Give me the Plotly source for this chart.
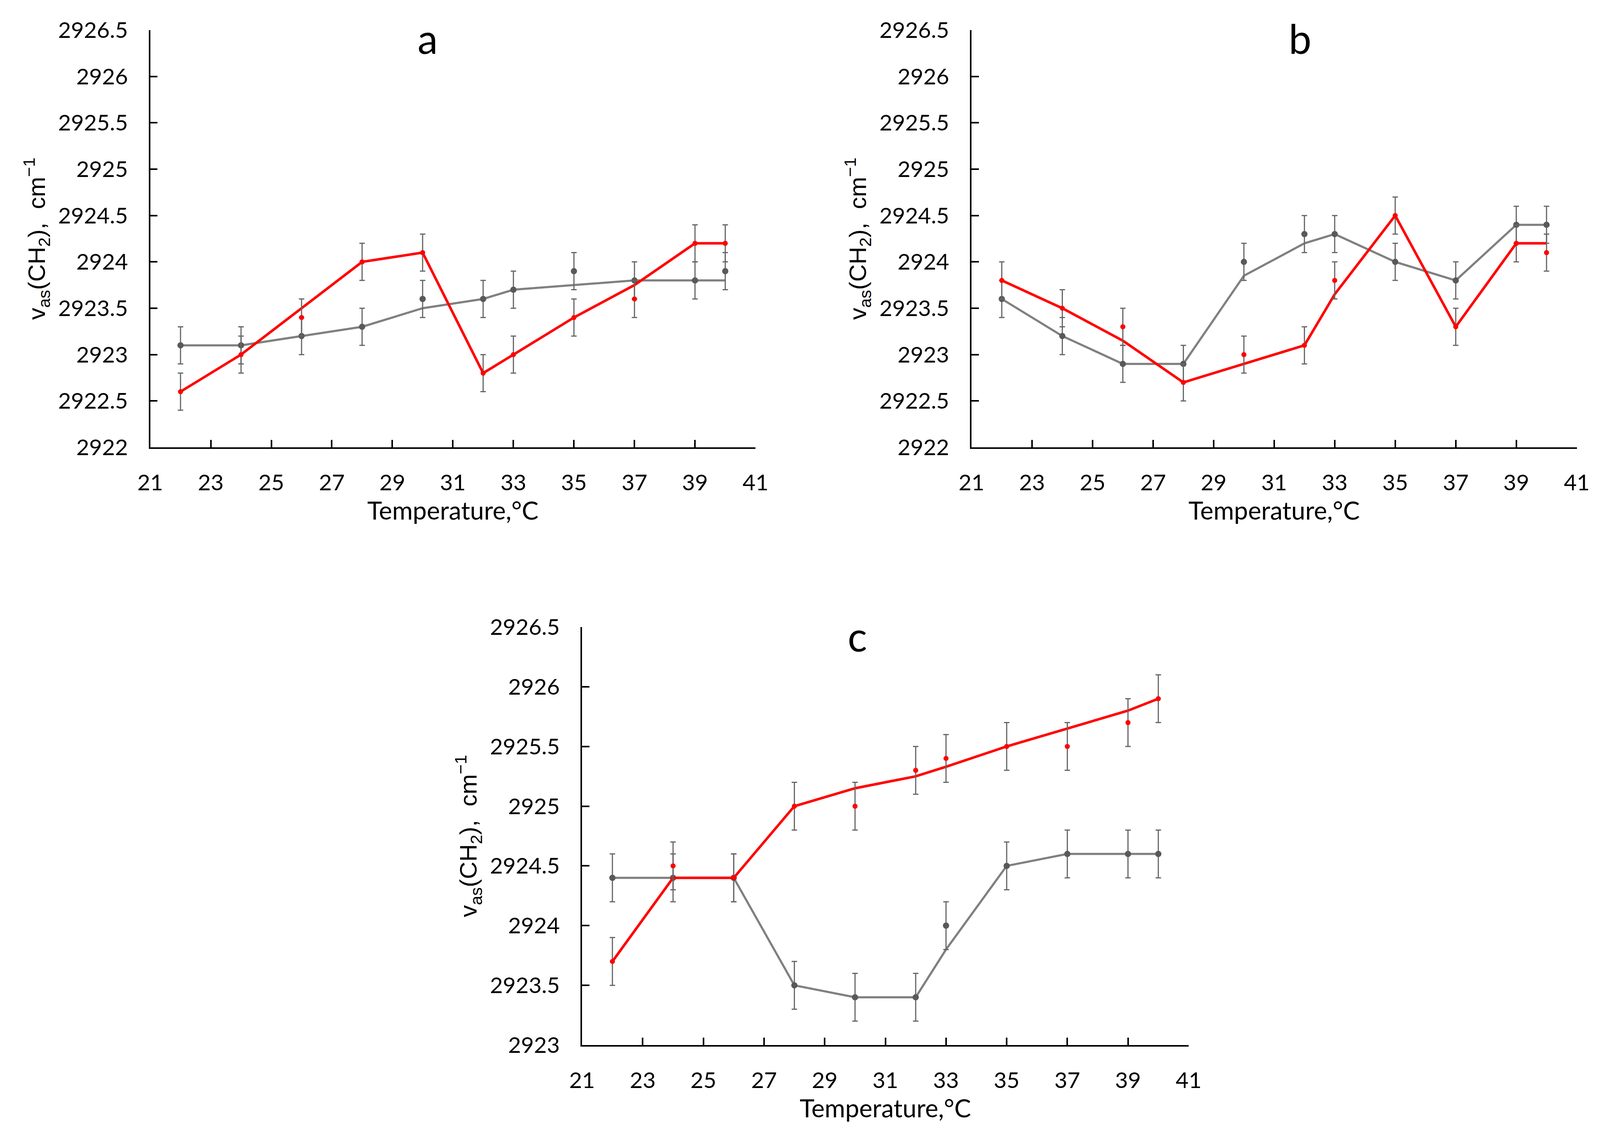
import plotly.graph_objects as go

# ---------------- data ----------------
temps = [22, 24, 26, 28, 30, 32, 33, 35, 37, 39, 40]

a_gray_pts = [2923.1, 2923.1, 2923.2, 2923.3, 2923.6, 2923.6, 2923.7, 2923.9, 2923.8, 2923.8, 2923.9]
a_gray_line = [2923.1, 2923.1, 2923.2, 2923.3, 2923.5, 2923.6, 2923.7, 2923.75, 2923.8, 2923.8, 2923.8]
a_red_pts = [2922.6, 2923.0, 2923.4, 2924.0, 2924.1, 2922.8, 2923.0, 2923.4, 2923.6, 2924.2, 2924.2]
a_red_line = [2922.6, 2923.0, 2923.5, 2924.0, 2924.1, 2922.8, 2923.0, 2923.4, 2923.75, 2924.2, 2924.2]

b_gray_pts = [2923.6, 2923.2, 2922.9, 2922.9, 2924.0, 2924.3, 2924.3, 2924.0, 2923.8, 2924.4, 2924.4]
b_gray_line = [2923.6, 2923.2, 2922.9, 2922.9, 2923.85, 2924.2, 2924.3, 2924.0, 2923.8, 2924.4, 2924.4]
b_red_pts = [2923.8, 2923.5, 2923.3, 2922.7, 2923.0, 2923.1, 2923.8, 2924.5, 2923.3, 2924.2, 2924.1]
b_red_line = [2923.8, 2923.5, 2923.15, 2922.7, 2922.9, 2923.1, 2923.65, 2924.5, 2923.3, 2924.2, 2924.2]

c_gray_pts = [2924.4, 2924.4, 2924.4, 2923.5, 2923.4, 2923.4, 2924.0, 2924.5, 2924.6, 2924.6, 2924.6]
c_gray_line = [2924.4, 2924.4, 2924.4, 2923.5, 2923.4, 2923.4, 2923.8, 2924.5, 2924.6, 2924.6, 2924.6]
c_red_pts = [2923.7, 2924.5, 2924.4, 2925.0, 2925.0, 2925.3, 2925.4, 2925.5, 2925.5, 2925.7, 2925.9]
c_red_line = [2923.7, 2924.4, 2924.4, 2925.0, 2925.15, 2925.25, 2925.33, 2925.5, 2925.65, 2925.8, 2925.9]

err_gray = [0.2, 0.2, 0.2, 0.2, 0.2, 0.2, 0.2, 0.2, 0.2, 0.2, 0.2]
err_red = [0.2, 0.2, 0.2, 0.2, 0.2, 0.2, 0.2, 0.2, 0.2, 0.2, 0.2]

x_ticks = [21, 23, 25, 27, 29, 31, 33, 35, 37, 39, 41]
y_ticks_ab = [2922, 2922.5, 2923, 2923.5, 2924, 2924.5, 2925, 2925.5, 2926, 2926.5]
y_text_ab = ["2922", "2922.5", "2923", "2923.5", "2924", "2924.5", "2925", "2925.5", "2926", "2926.5"]
y_ticks_c = [2923, 2923.5, 2924, 2924.5, 2925, 2925.5, 2926, 2926.5]
y_text_c = ["2923", "2923.5", "2924", "2924.5", "2925", "2925.5", "2926", "2926.5"]

panel_labels = ["a", "b", "c"]
x_title = "Temperature,°C"
y_title = "v<sub>as</sub>(CH<sub>2</sub>),  cm<sup>−1</sup>"

# ---------------- style ----------------
RED = "#FF0000"
GRAY_LINE = "#808080"
GRAY_MK = "#595959"
ERR_COL = "#666666"
CAL = "Lato, Carlito, Open Sans, sans-serif"
TICK_FONT = dict(family=CAL, size=57, color="black")
XT_FONT = dict(family=CAL, size=64, color="black")
YT_FONT = dict(family="Liberation Sans, Arial, sans-serif", size=62, color="black")

panels = [
    dict(xd=[0.0939, 0.4722], yd=[0.6045, 0.9734], yr=[2922, 2926.5], yt=y_ticks_ab, ytt=y_text_ab,
         g=a_gray_pts, gl=a_gray_line, r=a_red_pts, rl=a_red_line, lab=(0.2674, 0.9663)),
    dict(xd=[0.6072, 0.9855], yd=[0.6045, 0.9734], yr=[2922, 2926.5], yt=y_ticks_ab, ytt=y_text_ab,
         g=b_gray_pts, gl=b_gray_line, r=b_red_pts, rl=b_red_line, lab=(0.8125, 0.9663)),
    dict(xd=[0.3638, 0.7429], yd=[0.0760, 0.4456], yr=[2923, 2926.5], yt=y_ticks_c, ytt=y_text_c,
         g=c_gray_pts, gl=c_gray_line, r=c_red_pts, rl=c_red_line, lab=(0.5360, 0.4378)),
]

fig = go.Figure()
layout = dict(autosize=True, margin=dict(l=0, r=0, t=0, b=0, pad=0),
              paper_bgcolor="white", plot_bgcolor="white", showlegend=False, annotations=[])

for i, p in enumerate(panels):
    n = "" if i == 0 else str(i + 1)
    xa, ya = "x" + n, "y" + n
    fig.add_trace(go.Scatter(x=temps, y=p["gl"], mode="lines", xaxis=xa, yaxis=ya,
                             line=dict(color=GRAY_LINE, width=5.5), hoverinfo="skip"))
    fig.add_trace(go.Scatter(x=temps, y=p["g"], mode="markers", xaxis=xa, yaxis=ya,
                             marker=dict(color=GRAY_MK, size=16),
                             error_y=dict(type="data", array=err_gray, color=ERR_COL, thickness=3, width=7)))
    fig.add_trace(go.Scatter(x=temps, y=p["rl"], mode="lines", xaxis=xa, yaxis=ya,
                             line=dict(color=RED, width=6.5), hoverinfo="skip"))
    fig.add_trace(go.Scatter(x=temps, y=p["r"], mode="markers", xaxis=xa, yaxis=ya,
                             marker=dict(color=RED, size=13),
                             error_y=dict(type="data", array=err_red, color=ERR_COL, thickness=3, width=7)))

    layout["xaxis" + n] = dict(domain=p["xd"], anchor=ya, range=[21, 41], tickvals=x_ticks,
                               ticks="inside", ticklen=19, tickwidth=3.5, tickcolor="black",
                               showline=True, linecolor="black", linewidth=3.5, showgrid=False,
                               zeroline=False, tickfont=TICK_FONT, ticklabelstandoff=38,
                               automargin=False,
                               title=dict(text=x_title, font=XT_FONT, standoff=20))
    layout["yaxis" + n] = dict(domain=p["yd"], anchor=xa, range=p["yr"], tickvals=p["yt"],
                               ticktext=p["ytt"], ticks="inside", ticklen=19, tickwidth=3.5,
                               tickcolor="black", showline=True, linecolor="black", linewidth=3.5,
                               showgrid=False, zeroline=False, tickfont=TICK_FONT,
                               ticklabelstandoff=42, automargin=False,
                               title=dict(text=y_title, font=YT_FONT, standoff=14))
    layout["annotations"].append(dict(text=panel_labels[i], x=p["lab"][0], y=p["lab"][1],
                                      xref="paper", yref="paper", xanchor="center", yanchor="middle",
                                      showarrow=False, font=dict(family=CAL, size=104, color="black")))

fig.update_layout(**layout)
fig.write_html(
    "out.html",
    default_width="100vw",
    default_height="100vh",
    config={"responsive": True, "displayModeBar": False},
    post_script=(
        "document.documentElement.style.margin='0';"
        "document.body.style.margin='0';"
        "document.documentElement.style.overflow='hidden';"
        "document.body.style.overflow='hidden';"
        "Plotly.Plots.resize(document.getElementById('{plot_id}'));"
    ),
)
